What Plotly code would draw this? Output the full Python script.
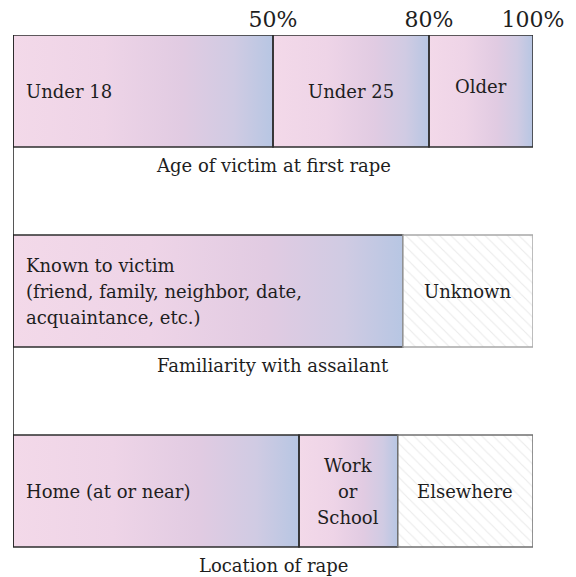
import base64
import plotly.graph_objects as go

# ---- data ----
rows = [0, 1, 2]
captions = ["Age of victim at first rape", "Familiarity with assailant", "Location of rape"]

age_labels = ["Under 18", "Under 25", "Older"]
age_values = [50, 30, 20]

familiarity_labels = ["Known to victim<br>(friend, family, neighbor, date,<br>acquaintance, etc.)", "Unknown"]
familiarity_values = [75, 25]

location_labels = ["Home (at or near)", "Work<br>or<br>School", "Elsewhere"]
location_values = [55, 19, 26]

tick_values = [50, 80, 100]
tick_text = ["50%", "80%", "100%"]

# which segments are "unknown/other" (hatched)
hatched = [[False, False, False], [False, True], [False, False, True]]
left_aligned = [[True, False, False], [True, False], [True, False, False]]

all_labels = [age_labels, familiarity_labels, location_labels]
all_values = [age_values, familiarity_values, location_values]

# ---- style ----
FONT = "DejaVu Serif, serif"
TXT = "#1e1e1e"
BAR_W = 0.56
LINE_GAP = 26  # px between lines of multi-line labels

svg = ("<svg xmlns='http://www.w3.org/2000/svg' width='200' height='20' viewBox='0 0 200 20' "
       "preserveAspectRatio='none'><defs><linearGradient id='g' x1='0' x2='1' y1='0' y2='0'>"
       "<stop offset='0' stop-color='#f3d9e9'/><stop offset='0.35' stop-color='#eed4e7'/>"
       "<stop offset='0.65' stop-color='#e1cbe2'/><stop offset='0.85' stop-color='#d0cbe3'/>"
       "<stop offset='1' stop-color='#b7c6e3'/></linearGradient></defs>"
       "<rect x='0' y='0' width='200' height='20' fill='url(#g)'/></svg>")
grad_src = "data:image/svg+xml;base64," + base64.b64encode(svg.encode()).decode()

fig = go.Figure()
images = []
annotations = []


def add_label(x, y, text, anchor, xshift=0, yshift=0):
    lines = text.split("<br>")
    n = len(lines)
    for k, line in enumerate(lines):
        off = ((n - 1) / 2 - k) * LINE_GAP
        annotations.append(dict(x=x, y=y, xref="x", yref="y", text=line, showarrow=False,
                                xanchor=anchor, yanchor="middle", xshift=xshift,
                                yshift=yshift + off,
                                font=dict(family=FONT, size=18, color=TXT)))


for r, labels, values, hat, lal in zip(rows, all_labels, all_values, hatched, left_aligned):
    cum = 0
    for lab, v, h, la in zip(labels, values, hat, lal):
        if h:
            marker = dict(color="white",
                          pattern=dict(shape="\\", fgcolor="#d6d6d6", bgcolor="white",
                                       size=8, solidity=0.14),
                          line=dict(color="#a8a8a8" if r == 1 else "#707070", width=1.5))
        else:
            marker = dict(color="rgba(0,0,0,0)", line=dict(color="#2e2e2e", width=1.5))
            images.append(dict(source=grad_src, xref="x", yref="y", x=cum, y=r - BAR_W / 2,
                               sizex=v, sizey=BAR_W, sizing="stretch", layer="below",
                               xanchor="left", yanchor="top"))
        fig.add_trace(go.Bar(y=[r], x=[v], base=[cum], orientation="h", width=BAR_W,
                             marker=marker, showlegend=False, name=lab.replace("<br>", " "),
                             hovertemplate=lab.replace("<br>", " ") + ": %{x}%<extra></extra>"))
        if la:
            add_label(cum, r, lab, "left", xshift=11)
        else:
            add_label(cum + v / 2, r, lab, "center", yshift=5 if lab == "Older" else 0)
        cum += v
    annotations.append(dict(x=50, y=r + 0.37, xref="x", yref="y", text=captions[r],
                            showarrow=False, xanchor="center", yanchor="middle",
                            font=dict(family=FONT, size=18, color=TXT)))

fig.add_shape(type="line", xref="x", yref="y", x0=0, x1=0, y0=-BAR_W / 2, y1=2 + BAR_W / 2,
              line=dict(color="#1e1e1e", width=1.5), layer="above")

fig.update_layout(
    width=576, height=577,
    margin=dict(l=5, r=51, t=27, b=0, pad=0),
    paper_bgcolor="white", plot_bgcolor="white",
    barmode="overlay",
    images=images,
    annotations=annotations,
    xaxis=dict(range=[0, 100], side="top", tickvals=tick_values, ticktext=tick_text,
               showgrid=False, zeroline=False, showline=False, ticks="",
               ticklabelstandoff=3,
               tickfont=dict(family=FONT, size=22, color=TXT), fixedrange=True),
    yaxis=dict(range=[2.47, -0.28], visible=False, fixedrange=True),
)

fig.write_html("out.html")
